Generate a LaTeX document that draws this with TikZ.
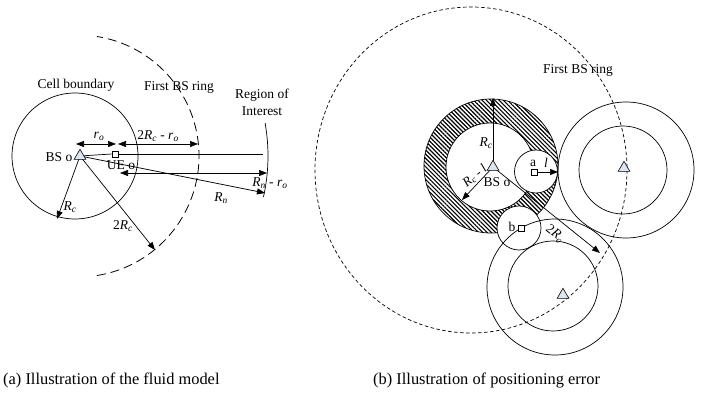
\documentclass[tikz,border=0pt]{standalone}
\usepackage{fontspec}
\setmainfont{Liberation Serif}
\usetikzlibrary{arrows.meta,shapes.geometric,patterns.meta}
\definecolor{bsfill}{HTML}{DCE6F2}
\newcommand{\myR}[1]{\textit{R}\textsubscript{\textit{#1}}}
\newcommand{\myr}[1]{\textit{r}\textsubscript{\textit{#1}}}
\begin{document}
\begin{tikzpicture}[x=1pt,y=-1pt,
  lbl/.style={font=\fontsize{13.5}{15}\selectfont, inner sep=0pt},
  captxt/.style={font=\fontsize{16.4}{19}\selectfont, inner sep=0pt, anchor=west},
  ln/.style={line width=0.7pt},
  arr/.style={line width=0.7pt,-{Triangle[length=8pt,width=6pt]}},
  darr/.style={line width=0.7pt,{Triangle[length=8pt,width=6pt]}-{Triangle[length=8pt,width=6pt]}},
  bsnode/.style={regular polygon, regular polygon sides=3, draw, fill=bsfill, minimum size=13.5pt, inner sep=0pt, line width=0.6pt},
  uenode/.style={rectangle, draw, fill=white, minimum size=6pt, inner sep=0pt, line width=0.6pt},
  bigdash/.style={line width=0.8pt, dash pattern=on 9pt off 5pt},
  smalldash/.style={line width=0.7pt, dash pattern=on 3.5pt off 2.5pt}
]
\useasboundingbox (0,0) rectangle (704,403);

% ---------------- (a) ----------------
\draw[ln] (75,156) circle[radius=63];
\draw[bigdash] (78,156) ++(81:121) arc[start angle=81, end angle=-81, radius=121];
\draw[ln] (80,156) ++(-10.1:188) arc[start angle=-10.1, end angle=12.6, radius=188];

\coordinate (bsa) at (80,156);
\node[uenode] (ue) at (115,154) {};
\coordinate (roiA) at (263,154);
\coordinate (rnA) at (265,193);
\coordinate (rcA) at (57,219);
\coordinate (tcA) at (155,250);
\coordinate (ro1) at (76,144);
\coordinate (ro2) at (116,144);
\coordinate (ro3) at (118,144);
\coordinate (ro4) at (198,144);
\coordinate (rn1) at (120,173);
\coordinate (rn2) at (267,173);

\draw[ln] (bsa) -- (ue.west);
\draw[ln] (ue.east) -- (roiA);
\draw[arr] (bsa) -- (rnA);
\draw[arr] (bsa) -- (rcA);
\draw[arr] (bsa) -- (tcA);
\draw[darr] (ro1) -- (ro2);
\draw[darr] (ro3) -- (ro4);
\draw[darr] (rn1) -- (rn2);
\node[bsnode] (BSA) at (bsa) {};

\node[lbl] (cellb) at (76,85) {Cell boundary};
\node[lbl] (fbra) at (179,87) {First BS ring};
\node[lbl] (roi1) at (262,95) {Region of};
\node[lbl] (roi2) at (262,111) {Interest};
\node[lbl] (lro) at (99,136) {\myr{o}};
\node[lbl] (ltwo) at (158,136) {2\myR{c} - \myr{o}};
\node[lbl] (lbsa) at (59,157) {BS o};
\node[lbl] (lue) at (121,165) {UE o};
\node[lbl] (lrca) at (70,207) {\myR{c}};
\node[lbl] (ltca) at (123,226) {2\myR{c}};
\node[lbl] (lrn) at (221,198) {\myR{n}};
\node[lbl] (lrnro) at (270,183) {\myR{n} - \myr{o}};

\node[captxt] (capa) at (3,380) {(a) Illustration of the fluid model};

% ---------------- (b) ----------------
\draw[smalldash] (471,170) ellipse[x radius=156, y radius=163];
\fill[pattern={Lines[angle=-45,distance=3pt,line width=1.2pt]}, even odd rule]
  (491,166) circle[radius=67] (490,167) circle[radius=44];
\draw[ln] (491,166) circle[radius=67];
\draw[ln] (490,167) circle[radius=44];
\draw[ln, fill=white] (536,171.5) circle[radius=21.5];
\draw[ln, fill=white] (519,228) circle[radius=22];
\draw[ln] (626,170) circle[radius=68];
\draw[ln] (623,170) circle[radius=44];
\draw[ln] (555,287) circle[radius=68];
\draw[ln] (553,286) circle[radius=45];

\coordinate (bsb) at (493,167);
\coordinate (rcB) at (493,98);
\coordinate (rclB) at (462,200);
\coordinate (tcB) at (600,253);
\coordinate (lB) at (558,172);
\node[uenode] (ua) at (534,172) {};
\node[uenode] (ub) at (521,228) {};

\draw[arr] (bsb) -- (rcB);
\draw[arr] (bsb) -- (rclB);
\draw[arr] (bsb) -- (tcB);
\draw[arr] (ua.east) -- (lB);

\node[bsnode] (BSB) at (bsb) {};
\node[bsnode] (BSR) at (624,168) {};
\node[bsnode] (BSL) at (563,295) {};

\node[lbl] (lrcb) at (486,143) {\myR{c}};
\node[lbl, rotate=40, font=\fontsize{13}{15}\selectfont] (lrclb) at (475,176) {\myR{c} - \textit{l}};
\node[lbl] (lbsb) at (497,182) {BS o};
\node[lbl] (la) at (533,163) {a};
\node[lbl] (ll) at (546,163) {\textit{l}};
\node[lbl] (lb) at (512,227) {b};
\node[lbl, rotate=-38] (ltcb) at (555,234) {2\myR{c}};
\node[lbl] (fbrb) at (578,70) {First BS ring};

\node[captxt] (capb) at (373,380) {(b) Illustration of positioning error};
\end{tikzpicture}
\end{document}
